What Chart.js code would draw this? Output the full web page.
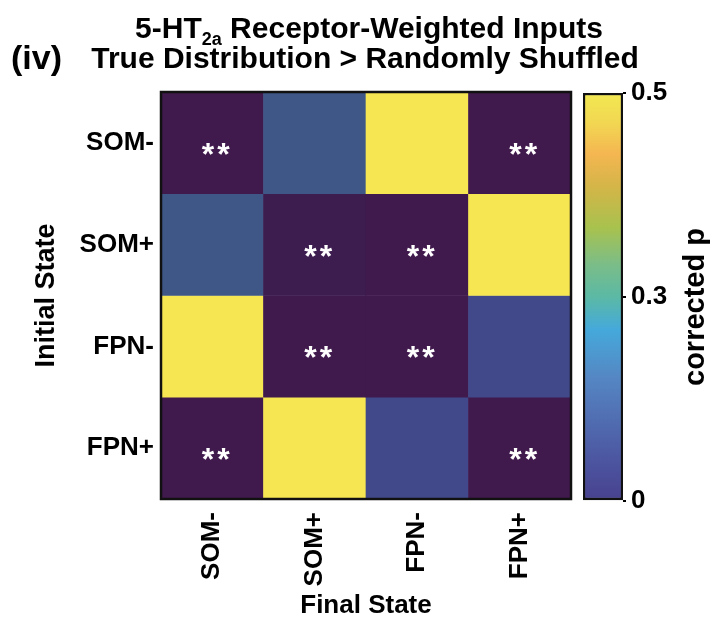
<!DOCTYPE html>
<html>
<head>
<meta charset="utf-8">
<script src="https://cdn.jsdelivr.net/npm/chart.js@4.4.1/dist/chart.umd.min.js"></script>
<style>
  body { margin: 0; background: #fff; }
  #wrap { position: relative; width: 711px; height: 619px; overflow: hidden; }
  canvas { position: absolute; top: 0; }
</style>
</head>
<body>
<div id="wrap">
  <canvas id="heat" width="711" height="619" style="left:0"></canvas>
  <canvas id="bar" width="136" height="619" style="left:575px"></canvas>
</div>
<script>
const initialStates = ['SOM-', 'SOM+', 'FPN-', 'FPN+'];
const finalStates = ['SOM-', 'SOM+', 'FPN-', 'FPN+'];
// corrected p per initial state (row), columns = final state
const pSOMminus = [0.001, 0.14, 0.5, 0.001];
const pSOMplus = [0.14, 0.008, 0.001, 0.5];
const pFPNminus = [0.5, 0.001, 0.001, 0.105];
const pFPNplus = [0.001, 0.5, 0.105, 0.001];
const pRows = [pSOMminus, pSOMplus, pFPNminus, pFPNplus];
const pMax = 0.5;
const sigThreshold = 0.01;
const cbTicks = [0, 0.3, 0.5];

const FONT = "'Liberation Sans', Arial, sans-serif";

// heatmap colours (viridis-like, as in the cells)
const heatStops = [[0, '#40184c'], [0.03, '#3a2054'], [0.21, '#41498a'], [0.28, '#3e5787'],
  [0.4, '#2a788e'], [0.5, '#21918c'], [0.6, '#22a884'], [0.7, '#44bf70'],
  [0.8, '#7ad151'], [0.9, '#bddf26'], [1, '#f5e652']];
// colour bar (parula-like)
const cbStops = [[0, '#48418f'], [0.12, '#4d5aa4'], [0.3, '#5586c3'], [0.42, '#45a9db'],
  [0.5, '#5bb9a5'], [0.58, '#7bbd88'], [0.67, '#a8c24e'], [0.77, '#d4b548'],
  [0.85, '#f4b651'], [0.93, '#f2d852'], [1, '#f2e851']];

function hex(c) { return [1, 3, 5].map(i => parseInt(c.substr(i, 2), 16)); }
function heatColor(p) {
  const t = Math.max(0, Math.min(1, p / pMax));
  for (let i = 1; i < heatStops.length; i++) {
    if (t <= heatStops[i][0]) {
      const [t0, c0] = heatStops[i - 1], [t1, c1] = heatStops[i];
      const f = (t - t0) / (t1 - t0);
      const a = hex(c0), b = hex(c1);
      return 'rgb(' + a.map((v, k) => Math.round(v + (b[k] - v) * f)).join(',') + ')';
    }
  }
  return heatStops[heatStops.length - 1][1];
}

// colour bar axis: ticks evenly spaced, linear in between
class PiecewiseScale extends Chart.LinearScale {
  getPixelForValue(value) {
    let f = 1;
    for (let i = 1; i < cbTicks.length; i++) {
      if (value <= cbTicks[i]) {
        f = (i - 1 + (value - cbTicks[i - 1]) / (cbTicks[i] - cbTicks[i - 1])) / (cbTicks.length - 1);
        break;
      }
    }
    return this.getPixelForDecimal(f);
  }
}
PiecewiseScale.id = 'piecewise';
PiecewiseScale.defaults = Chart.LinearScale.defaults;
Chart.register(PiecewiseScale);

const heatDecor = {
  id: 'heatDecor',
  afterDatasetsDraw(chart) {
    const { ctx, chartArea: a, scales: { x, y } } = chart;
    // stars
    ctx.save();
    ctx.fillStyle = '#fff';
    ctx.font = 'bold 32px ' + FONT;
    ctx.letterSpacing = '3px';
    ctx.textAlign = 'center';
    ctx.textBaseline = 'alphabetic';
    const m = ctx.measureText('**');
    pRows.forEach((row, i) => {
      row.forEach((p, j) => {
        if (p < sigThreshold) {
          const cx = x.getPixelForValue(j) + 5;
          const cy = y.getPixelForValue(i + 0.5) + 6;
          ctx.fillText('**', cx, cy + (m.actualBoundingBoxAscent - m.actualBoundingBoxDescent) / 2);
        }
      });
    });
    ctx.restore();
    // frame
    ctx.save();
    ctx.strokeStyle = '#111';
    ctx.lineWidth = 2.5;
    ctx.strokeRect(a.left, a.top, a.right - a.left, a.bottom - a.top);
    ctx.restore();
  },
  afterDraw(chart) {
    const { ctx } = chart;
    ctx.save();
    ctx.fillStyle = '#000';
    ctx.textBaseline = 'alphabetic';
    const cx = 369;
    // line 1 with subscript
    const big = 'bold 30px ' + FONT, small = 'bold 18px ' + FONT;
    const p1 = '5-HT', sub = '2a', p2 = ' Receptor-Weighted Inputs';
    ctx.font = big;
    const w1 = ctx.measureText(p1).width, w3 = ctx.measureText(p2).width;
    ctx.font = small;
    const w2 = ctx.measureText(sub).width;
    let sx = cx - (w1 + w2 + w3) / 2;
    ctx.textAlign = 'left';
    ctx.font = big; ctx.fillText(p1, sx, 38);
    ctx.font = small; ctx.fillText(sub, sx + w1, 45);
    ctx.font = big; ctx.fillText(p2, sx + w1 + w2, 38);
    // line 2
    ctx.textAlign = 'center';
    ctx.fillText('True Distribution > Randomly Shuffled', 365, 68);
    // panel label
    ctx.textAlign = 'left';
    ctx.font = 'bold 34px ' + FONT;
    ctx.fillText('(iv)', 11, 69);
    ctx.restore();
  }
};

new Chart(document.getElementById('heat'), {
  type: 'bar',
  data: {
    labels: finalStates,
    datasets: pRows.map((row, i) => ({
      label: initialStates[i],
      data: row.map(() => [i, i + 1]),
      backgroundColor: row.map(p => heatColor(p)),
      borderWidth: 0,
      barPercentage: 1,
      categoryPercentage: 1,
      grouped: false
    }))
  },
  options: {
    responsive: false,
    animation: false,
    layout: { padding: { left: 0, top: 92, right: 140, bottom: 0 } },
    plugins: { legend: { display: false }, tooltip: { enabled: false } },
    scales: {
      x: {
        grid: { display: false, drawTicks: false },
        border: { display: false },
        ticks: {
          color: '#000', padding: 13, minRotation: 90, maxRotation: 90,
          font: { family: FONT, size: 26, weight: 'bold' }
        },
        title: {
          display: true, text: 'Final State', color: '#000', padding: 0,
          font: { family: FONT, size: 26, weight: 'bold', lineHeight: 1 }
        },
        afterFit: s => { s.height = 120; }
      },
      y: {
        min: 0, max: 4, reverse: true,
        grid: { display: false, drawTicks: false },
        border: { display: false },
        afterBuildTicks: s => { s.ticks = initialStates.map((_, i) => ({ value: i + 0.5 })); },
        ticks: {
          color: '#000', padding: 7,
          font: { family: FONT, size: 26, weight: 'bold' },
          callback: v => initialStates[Math.floor(v)]
        },
        title: {
          display: true, text: 'Initial State', color: '#000', padding: { top: 33, bottom: 0 },
          font: { family: FONT, size: 27, weight: 'bold', lineHeight: 1 }
        },
        afterFit: s => { s.width = 161; }
      }
    }
  },
  plugins: [heatDecor]
});

const barTitle = {
  id: 'barTitle',
  afterDraw(chart) {
    const { ctx } = chart;
    ctx.save();
    ctx.translate(129, 307);
    ctx.rotate(-Math.PI / 2);
    ctx.fillStyle = '#000';
    ctx.font = 'bold 29px ' + FONT;
    ctx.textAlign = 'center';
    ctx.textBaseline = 'alphabetic';
    ctx.fillText('corrected p', 0, 0);
    ctx.restore();
  }
};

new Chart(document.getElementById('bar'), {
  type: 'bar',
  data: {
    labels: ['corrected p'],
    datasets: [{
      data: [[cbTicks[0], pMax]],
      backgroundColor: c => {
        const { ctx, chartArea } = c.chart;
        if (!chartArea) return null;
        const g = ctx.createLinearGradient(0, chartArea.bottom, 0, chartArea.top);
        cbStops.forEach(([s, col]) => g.addColorStop(s, col));
        return g;
      },
      borderColor: '#111',
      borderWidth: 2.5,
      borderSkipped: false,
      barPercentage: 1,
      categoryPercentage: 1
    }]
  },
  options: {
    responsive: false,
    animation: false,
    layout: { padding: { left: 8, top: 93, right: 0, bottom: 118 } },
    plugins: { legend: { display: false }, tooltip: { enabled: false } },
    scales: {
      x: { display: false },
      y: {
        type: 'piecewise', position: 'right', min: 0, max: pMax,
        afterBuildTicks: s => { s.ticks = cbTicks.map(v => ({ value: v })); },
        grid: { drawOnChartArea: false, tickLength: 3, color: '#000', lineWidth: 2 },
        border: { display: false },
        ticks: {
          color: '#000', padding: 5,
          font: { family: FONT, size: 26, weight: 'bold' },
          callback: v => String(v)
        },
        afterFit: s => { s.width = 88; }
      }
    }
  },
  plugins: [barTitle]
});
</script>
</body>
</html>
